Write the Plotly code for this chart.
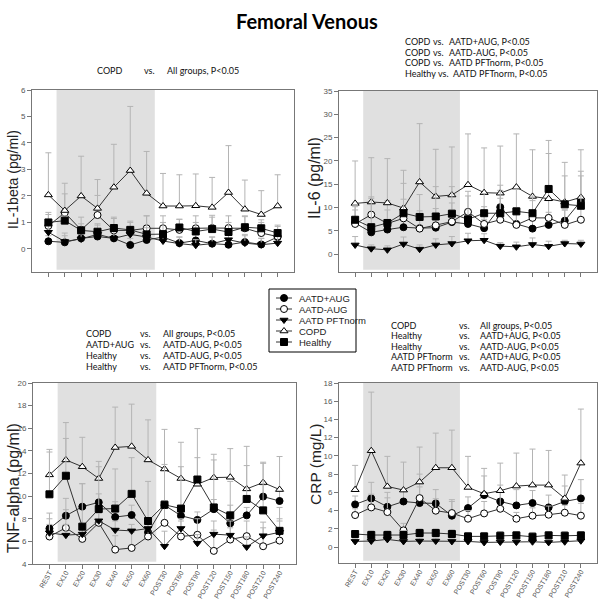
import plotly.graph_objects as go

# time points
timepoints = ["REST", "EX10", "EX20", "EX30", "EX40", "EX50", "EX60", "POST30",
              "POST60", "POST90", "POST120", "POST150", "POST180", "POST210", "POST240"]
groups = ["AATD+AUG", "AATD-AUG", "AATD PFTnorm", "COPD", "Healthy"]

# IL-1beta (pg/ml): means and top of error bar
il1_mean = {
    "AATD+AUG": [0.29, 0.25, 0.4, 0.47, 0.4, 0.15, 0.34, 0.45, 0.22, 0.32, 0.2, 0.16, 0.26, 0.17, 0.45],
    "AATD-AUG": [0.87, 1.37, 0.72, 1.28, 0.7, 0.7, 0.78, 0.78, 0.72, 0.78, 0.79, 0.79, 0.78, 0.6, 0.47],
    "AATD PFTnorm": [0.63, 0.28, 0.38, 0.55, 0.4, 0.55, 0.45, 0.3, 0.2, 0.14, 0.2, 0.35, 0.22, 0.16, 0.22],
    "COPD": [2.04, 1.45, 2.0, 1.53, 2.33, 2.96, 2.1, 1.62, 1.62, 1.63, 1.57, 2.13, 1.5, 1.3, 1.62],
    "Healthy": [1.0, 1.07, 0.7, 0.65, 0.79, 0.72, 0.55, 0.56, 0.81, 0.66, 0.75, 0.64, 0.82, 0.78, 0.6],
}
il1_top = {
    "AATD+AUG": [0.5, 0.5, 0.6, 0.7, 0.6, 0.4, 0.6, 0.8, 0.45, 0.6, 0.45, 0.4, 0.55, 0.4, 0.7],
    "AATD-AUG": [1.3, 2.08, 0.95, 2.02, 1.15, 1.05, 1.25, 1.25, 1.12, 1.25, 1.27, 1.25, 1.22, 1.0, 0.85],
    "AATD PFTnorm": [1.0, 0.6, 0.75, 0.9, 0.8, 0.85, 0.8, 0.5, 0.45, 0.35, 0.45, 0.6, 0.5, 0.4, 0.5],
    "COPD": [3.63, 2.48, 3.5, 2.62, 3.95, 5.38, 3.68, 2.85, 2.8, 2.83, 2.7, 3.9, 2.6, 2.2, 2.8],
    "Healthy": [1.38, 1.25, 1.2, 0.95, 1.2, 1.0, 1.25, 1.0, 1.12, 1.0, 1.2, 1.0, 1.25, 1.1, 0.9],
}

# IL-6 (pg/ml)
il6_mean = {
    "AATD+AUG": [6.7, 4.7, 5.3, 5.8, 5.6, 5.7, 6.9, 6.5, 5.6, 10.1, 6.5, 5.5, 6.3, 7.2, 11.4],
    "AATD-AUG": [6.5, 8.5, 6.6, 7.7, 5.5, 6.2, 7.0, 9.1, 6.5, 7.4, 6.3, 7.8, 7.8, 6.3, 7.4],
    "AATD PFTnorm": [2.0, 1.2, 0.95, 2.2, 1.1, 2.0, 2.3, 2.9, 3.0, 1.75, 1.6, 2.1, 1.7, 2.3, 2.2],
    "COPD": [10.9, 11.2, 11.0, 9.9, 15.5, 12.4, 12.7, 14.9, 13.2, 13.1, 14.4, 12.4, 11.9, 11.2, 12.2],
    "Healthy": [7.4, 5.8, 6.7, 8.8, 8.0, 8.1, 8.7, 7.5, 8.8, 8.8, 9.2, 8.8, 14.0, 10.7, 10.4],
}
il6_top = {
    "AATD+AUG": [9.5, 6.5, 7.5, 8, 8, 7.6, 9.5, 9, 7.5, 13.7, 10, 8, 9, 9.5, 16.8],
    "AATD-AUG": [10.2, 12.3, 11.5, 11.8, 9.3, 9.8, 11, 13.5, 10.2, 12, 10, 11.5, 11.5, 9.5, 11],
    "AATD PFTnorm": [3.8, 2, 1.8, 3.7, 2, 3.3, 3.8, 4.5, 4.4, 2.5, 2.6, 3.5, 2.8, 3, 3],
    "COPD": [20, 20.7, 20.5, 18, 28, 22.5, 23, 25.8, 22.8, 23.2, 25.8, 22.4, 24.4, 19.7, 22.4],
    "Healthy": [10.5, 12, 9.5, 15.2, 12.8, 14.5, 14.5, 12.5, 13, 14.8, 14, 12.5, 21.6, 16.8, 17.8],
}

# TNF-alpha (pg/ml)
tnf_mean = {
    "AATD+AUG": [7.14, 8.27, 9.07, 9.45, 8.15, 8.33, 6.8, 9.2, 8.27, 7.9, 8.85, 7.6, 8.3, 9.96, 9.57],
    "AATD-AUG": [6.43, 7.2, 6.22, 7.64, 5.27, 5.42, 6.43, 7.64, 6.43, 6.58, 5.16, 6.16, 6.46, 5.57, 6.07],
    "AATD PFTnorm": [6.76, 6.55, 6.64, 7.82, 7.0, 6.93, 7.14, 5.57, 7.14, 5.84, 6.64, 6.55, 5.5, 6.5, 6.8],
    "COPD": [11.88, 13.2, 12.6, 11.56, 14.3, 14.4, 13.2, 12.4, 11.56, 11.05, 11.64, 11.67, 10.64, 11.2, 10.58],
    "Healthy": [10.16, 11.8, 7.3, 8.86, 8.9, 10.2, 7.8, 9.24, 8.9, 11.47, 9.0, 8.3, 9.75, 8.74, 6.93],
}
tnf_top = {
    "AATD+AUG": [8.5, 9.8, 11.1, 10.2, 9.5, 9.2, 8.0, 9.6, 9.0, 8.6, 9.7, 9.2, 9.0, 11.0, 10.6],
    "AATD-AUG": [8.0, 8.8, 7.2, 8.5, 6.5, 6.8, 7.5, 9.6, 8.0, 8.0, 7.0, 7.8, 7.8, 7.2, 7.8],
    "AATD PFTnorm": [7.5, 7.5, 7.5, 8.5, 7.8, 7.5, 7.8, 6.9, 7.8, 6.6, 7.8, 7.2, 6.4, 7.7, 8.0],
    "COPD": [14.13, 16.5, 15.2, 13.07, 17.87, 18.13, 16.74, 15.9, 14.76, 15.97, 13.7, 14.2, 14.4, 13.0, 13.5],
    "Healthy": [13.9, 15.1, 11.1, 12.6, 12.4, 13.4, 11.3, 12.8, 12.6, 13.4, 13.2, 11.3, 12.7, 12.9, 9.0],
}

# CRP (mg/L)
crp_mean = {
    "AATD+AUG": [4.68, 5.34, 4.42, 5.0, 4.83, 4.79, 3.44, 4.28, 5.7, 5.0, 4.57, 4.83, 4.35, 5.0, 5.34],
    "AATD-AUG": [3.51, 4.35, 3.84, 1.83, 5.37, 3.99, 3.73, 3.11, 3.69, 4.2, 3.11, 3.44, 3.55, 3.77, 3.44],
    "AATD PFTnorm": [0.62, 0.66, 0.84, 0.62, 0.66, 0.66, 0.62, 0.62, 0.51, 0.55, 0.55, 0.58, 0.51, 0.58, 0.69],
    "COPD": [6.29, 10.57, 6.65, 6.25, 7.13, 8.7, 8.7, 6.54, 5.85, 6.18, 6.69, 6.8, 6.8, 5.34, 9.21],
    "Healthy": [1.43, 1.32, 1.32, 1.32, 1.54, 1.54, 1.43, 1.17, 1.17, 1.24, 1.28, 1.13, 1.28, 1.24, 1.28],
}
crp_top = {
    "AATD+AUG": [5.6, 7.1, 6.0, 6.2, 6.6, 6.3, 5.2, 5.5, 7.8, 6.8, 6.3, 6.2, 5.7, 6.7, 7.4],
    "AATD-AUG": [4.2, 5.8, 5.4, 2.6, 8.0, 5.3, 5.0, 4.0, 5.0, 6.0, 3.8, 4.3, 4.5, 4.6, 4.8],
    "AATD PFTnorm": [0.9, 1.0, 1.1, 0.9, 1.0, 1.0, 0.9, 0.9, 0.8, 0.8, 0.8, 0.9, 0.8, 0.9, 1.0],
    "COPD": [8.96, 17.0, 9.95, 9.32, 10.97, 12.5, 12.83, 9.95, 8.63, 9.21, 10.31, 10.75, 10.6, 7.9, 15.14],
    "Healthy": [1.8, 1.8, 1.8, 1.8, 2.0, 2.0, 1.9, 1.6, 1.6, 1.7, 1.7, 1.6, 1.7, 1.7, 1.7],
}

# significance notes per panel
il1_stats = [("COPD", "All groups, P<0.05")]
il6_stats = [("COPD", "AATD+AUG, P<0.05"), ("COPD", "AATD-AUG, P<0.05"),
             ("COPD", "AATD PFTnorm, P<0.05"), ("Healthy", "AATD PFTnorm, P<0.05")]
tnf_stats = [("COPD", "All groups, P<0.05"), ("AATD+AUG", "AATD-AUG, P<0.05"),
             ("Healthy", "AATD-AUG, P<0.05"), ("Healthy", "AATD PFTnorm, P<0.05")]
crp_stats = [("COPD", "All groups, P<0.05"), ("Healthy", "AATD+AUG, P<0.05"),
             ("Healthy", "AATD-AUG, P<0.05"), ("AATD PFTnorm", "AATD+AUG, P<0.05"),
             ("AATD PFTnorm", "AATD-AUG, P<0.05")]

W = H = 600
ARIAL = "Liberation Sans, Arial, sans-serif"
CALIBRI = "Lato, Carlito, sans-serif"

styles = {
    "AATD+AUG": dict(symbol="circle", color="black"),
    "AATD-AUG": dict(symbol="circle", color="white"),
    "AATD PFTnorm": dict(symbol="triangle-down", color="black"),
    "COPD": dict(symbol="triangle-up", color="white"),
    "Healthy": dict(symbol="square", color="black"),
}

# panel: data, error tops, y title, x px, y px, y range, dtick, x labels, notes, note layout, title pos, title size
panels = [
    (il1_mean, il1_top, "IL-1beta (pg/ml)", (32, 294), (90, 272), (-0.87, 6), 1, False,
     il1_stats, dict(cols=[(95, 142, 165)], y0=71, dy=11), (13, 180), 14),
    (il6_mean, il6_top, "IL-6 (pg/ml)", (339, 597), (91, 272), (-3.8, 35), 5, False,
     il6_stats, dict(cols=[(403, 431, 447)] * 3 + [(403, 436, 451)], y0=41, dy=11), (315, 178), 16),
    (tnf_mean, tnf_top, "TNF-alpha (pg/ml)", (33, 296), (383, 564), (4, 20), 2, True,
     tnf_stats, dict(cols=[(84, 138, 161)], y0=333, dy=11), (13, 488), 16),
    (crp_mean, crp_top, "CRP (mg/L)", (339, 597), (383, 563), (-1.75, 18), 2, True,
     crp_stats, dict(cols=[(389, 457, 478)], y0=325, dy=10.6), (315, 464), 15.5),
]

fig = go.Figure()
layout = {}
annotations = []
shapes = []

for i, (means, tops, ytitle, xpx, ypx, yrng, dtick, showx, stats, st, tpos, tsize) in enumerate(panels):
    n = "" if i == 0 else str(i + 1)
    xa, ya = "x" + n, "y" + n
    for g in groups:
        sty = styles[g]
        err = [t - m for t, m in zip(tops[g], means[g])]
        fig.add_trace(go.Scatter(
            x=list(range(len(timepoints))), y=means[g], mode="lines+markers", name=g,
            xaxis=xa, yaxis=ya, showlegend=False,
            line=dict(color="#333333", width=1),
            marker=dict(symbol=sty["symbol"], size=7, color=sty["color"],
                        line=dict(color="black", width=1)),
            error_y=dict(type="data", array=err, arrayminus=[0] * len(err), symmetric=False,
                         color="#b4b4b4", thickness=1, width=3),
        ))
    axis_common = dict(showline=True, mirror=True, linecolor="#777777", linewidth=1,
                       ticks="outside", ticklen=4, tickcolor="#777777", showgrid=False,
                       zeroline=False, automargin=False)
    layout["xaxis" + n] = dict(
        axis_common, domain=[xpx[0] / W, xpx[1] / W], range=[-1, 15], anchor=ya,
        tickvals=list(range(len(timepoints))), ticktext=timepoints,
        showticklabels=showx, tickangle=-60, ticklabelstandoff=-3,
        tickfont=dict(family=ARIAL, size=7, color="#555555"))
    layout["yaxis" + n] = dict(
        axis_common, domain=[1 - ypx[1] / H, 1 - ypx[0] / H], range=list(yrng), anchor=xa,
        tick0=0, dtick=dtick, tickfont=dict(family=ARIAL, size=8, color="#555555"))
    # exercise period shading
    shapes.append(dict(type="rect", xref=xa, yref=ya + " domain", x0=0.5, x1=6.5, y0=0.012, y1=1,
                       fillcolor="#e0e0e0", line=dict(width=0), layer="below"))
    annotations.append(dict(text=ytitle, x=tpos[0] / W, y=1 - tpos[1] / H, xref="paper", yref="paper",
                            xanchor="center", yanchor="middle", textangle=-90, showarrow=False,
                            font=dict(family=ARIAL, size=tsize, color="#222222")))
    for r, (a, b) in enumerate(stats):
        cols = st["cols"][r] if len(st["cols"]) > 1 else st["cols"][0]
        yy = 1 - (st["y0"] + r * st["dy"]) / H
        for txt, cx in zip([a, "vs.", b], cols):
            annotations.append(dict(text=txt, x=cx / W, y=yy, xref="paper", yref="paper",
                                    xanchor="left", yanchor="middle", showarrow=False,
                                    font=dict(family=CALIBRI, size=9, color="#111111")))

# title
annotations.append(dict(text="<b>Femoral Venous</b>", x=307 / W, y=1 - 21 / H, xref="paper", yref="paper",
                        xanchor="center", yanchor="middle", showarrow=False,
                        font=dict(family=CALIBRI, size=20, color="black")))

# hand-drawn legend box
shapes.append(dict(type="rect", xref="paper", yref="paper", x0=269 / W, x1=356 / W,
                   y0=1 - 352 / H, y1=1 - 289 / H, line=dict(color="black", width=1),
                   fillcolor="white", layer="below"))
for k, g in enumerate(groups):
    sty = styles[g]
    fig.add_trace(go.Scatter(x=[0, 2], y=[k, k], mode="lines", xaxis="x5", yaxis="y5",
                             line=dict(color="#333333", width=1), showlegend=False, hoverinfo="skip"))
    fig.add_trace(go.Scatter(x=[1], y=[k], mode="markers", xaxis="x5", yaxis="y5", showlegend=False,
                             marker=dict(symbol=sty["symbol"], size=7, color=sty["color"],
                                         line=dict(color="black", width=1)), hoverinfo="skip"))
    annotations.append(dict(text=g, x=297 / W, y=k, xref="paper", yref="y5", xanchor="left",
                            yanchor="middle", showarrow=False,
                            font=dict(family=ARIAL, size=9.5, color="#222222")))
layout["xaxis5"] = dict(domain=[276 / W, 292 / W], range=[0, 2], visible=False, anchor="y5")
layout["yaxis5"] = dict(domain=[1 - 347.5 / H, 1 - 292.5 / H], range=[4.5, -0.5], visible=False, anchor="x5")

fig.update_layout(
    width=W, height=H, margin=dict(l=0, r=0, t=0, b=0),
    paper_bgcolor="white", plot_bgcolor="rgba(0,0,0,0)",
    showlegend=False, annotations=annotations, shapes=shapes, **layout)

# drop the browser's default body margin so the 600x600 figure sits at the window origin
fig.write_html("out.html", config={"displayModeBar": False},
               post_script="document.body.style.margin='0px';")
